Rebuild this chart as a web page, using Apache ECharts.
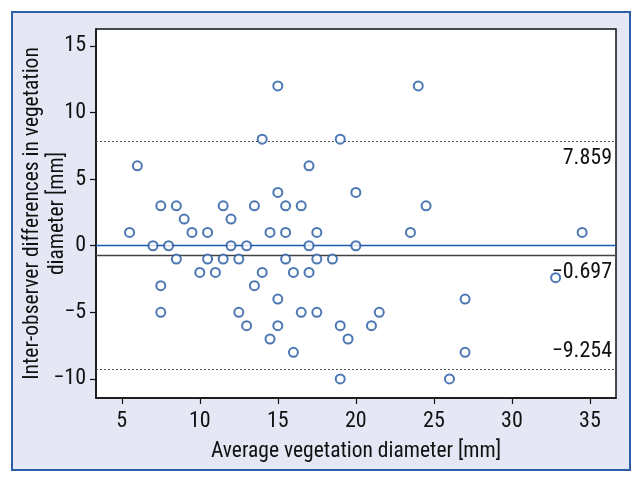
<!DOCTYPE html>
<html>
<head>
<meta charset="utf-8">
<script src="https://cdn.jsdelivr.net/npm/echarts@6/dist/echarts.min.js"></script>
<style>
html,body{margin:0;padding:0;background:#fff;}
#frame{position:absolute;left:11px;top:11px;width:616px;height:456px;border:2px solid #2b5ea6;background:#e5e8f4;}
#chart{position:absolute;left:0;top:0;width:643px;height:484px;}
</style>
</head>
<body>
<div id="frame"></div>
<div id="chart"></div>
<script>
const FONT = "'Roboto Condensed', 'DejaVu Sans Condensed', 'Liberation Sans', sans-serif";
const xTicks = [5, 10, 15, 20, 25, 30, 35];
const yTicks = [-10, -5, 0, 5, 10, 15];
const avgDiameter = [15, 24, 14, 19, 6, 17, 15, 20,
  7.5, 8.5, 11.5, 13.5, 15.5, 16.5, 24.5,
  9, 12,
  5.5, 9.5, 10.5, 14.5, 15.5, 17.5, 23.5, 34.5,
  7, 8, 12, 13, 17, 20,
  8.5, 10.5, 11.5, 12.5, 15.5, 17.5, 18.5,
  10, 11, 14, 16, 17,
  32.8,
  7.5, 13.5,
  15, 27,
  7.5, 12.5, 16.5, 17.5, 21.5,
  13, 15, 19, 21,
  14.5, 19.5,
  16, 27,
  19, 26];
const diffDiameter = [12, 12, 8, 8, 6, 6, 4, 4,
  3, 3, 3, 3, 3, 3, 3,
  2, 2,
  1, 1, 1, 1, 1, 1, 1, 1,
  0, 0, 0, 0, 0, 0,
  -1, -1, -1, -1, -1, -1, -1,
  -2, -2, -2, -2, -2,
  -2.4,
  -3, -3,
  -4, -4,
  -5, -5, -5, -5, -5,
  -6, -6, -6, -6,
  -7, -7,
  -8, -8,
  -10, -10];
const meanDiff = -0.697;
const upperLoA = 7.859;
const lowerLoA = -9.254;
const zeroLine = 0;

const fmt = v => (v < 0 ? '\u2212' + Math.abs(v) : String(v));
const points = avgDiameter.map((x, i) => [x, diffDiameter[i]]);

const chart = echarts.init(document.getElementById('chart'), null, {renderer: 'canvas'});
chart.setOption({
  backgroundColor: 'transparent',
  animation: false,
  grid: {left: 96, top: 29, width: 520, height: 369, outerBoundsMode: 'none', containLabel: false,
         show: true, borderColor: '#111', borderWidth: 1.5, backgroundColor: '#fff'},
  xAxis: {
    type: 'value', min: 3.35, max: 36.67,
    name: 'Average vegetation diameter [mm]', nameLocation: 'middle', nameGap: 43,
    nameTextStyle: {fontFamily: FONT, fontSize: 21.5, color: '#111'},
    axisLine: {show: true, onZero: false, lineStyle: {color: '#111', width: 1.5}},
    axisTick: {show: true, length: 6, customValues: xTicks, lineStyle: {color: '#111', width: 1.2}},
    axisLabel: {customValues: xTicks, margin: 12, fontFamily: FONT, fontSize: 22, color: '#111', formatter: fmt},
    splitLine: {show: false}
  },
  yAxis: {
    type: 'value', min: -11.43, max: 16.27,
    name: 'Inter-observer differences in vegetation\ndiameter [mm]', nameLocation: 'middle', nameGap: 26, nameRotate: 90,
    nameMoveOverlap: false,
    nameTextStyle: {fontFamily: FONT, fontSize: 21.5, color: '#111', lineHeight: 25},
    axisLine: {show: true, onZero: false, lineStyle: {color: '#111', width: 1.5}},
    axisTick: {show: true, length: 6, customValues: yTicks, lineStyle: {color: '#111', width: 1.2}},
    axisLabel: {customValues: yTicks, margin: 10, fontFamily: FONT, fontSize: 22, color: '#111', formatter: fmt},
    splitLine: {show: false}
  },
  series: [{
    type: 'scatter',
    data: points,
    symbol: 'circle',
    symbolSize: 9,
    itemStyle: {color: '#fff', borderColor: '#1f56a0', borderWidth: 2},
    z: 5,
    markLine: {
      silent: true, symbol: 'none', animation: false,
      emphasis: {disabled: true},
      data: [
        {yAxis: zeroLine, lineStyle: {color: '#1a5bb0', width: 1.3, type: 'solid', opacity: 1}, label: {show: false}},
        {yAxis: meanDiff, lineStyle: {color: '#444', width: 1.3, type: 'solid', opacity: 1},
         label: {show: true, position: 'insideEndBottom', formatter: '\u22120.697', distance: [4, 6]}},
        {yAxis: upperLoA, lineStyle: {color: '#555', width: 1, type: [2, 2], opacity: 1},
         label: {show: true, position: 'insideEndBottom', formatter: '7.859', distance: [4, 6]}},
        {yAxis: lowerLoA, lineStyle: {color: '#555', width: 1, type: [2, 2], opacity: 1},
         label: {show: true, position: 'insideEndTop', formatter: '\u22129.254', distance: [4, 6]}}
      ],
      label: {fontFamily: FONT, fontSize: 22, color: '#111'}
    }
  }]
});
</script>
</body>
</html>
